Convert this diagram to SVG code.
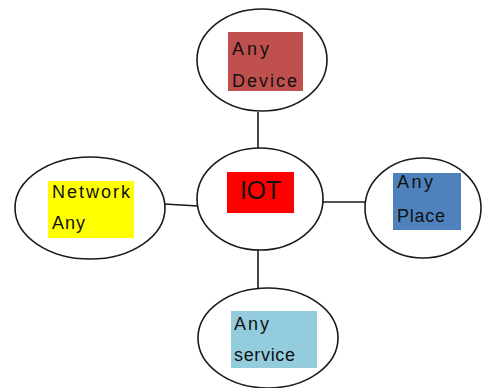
<svg xmlns="http://www.w3.org/2000/svg" width="484" height="388" viewBox="0 0 484 388">
  <style>
    .ell { fill: #ffffff; stroke: #1a1a1a; stroke-width: 1.6; }
    .conn { stroke: #1a1a1a; stroke-width: 1.6; fill: none; }
    .lbl { font-family: "Liberation Sans", Arial, sans-serif; font-size: 18px; fill: #111111; }
    .big { font-family: "Liberation Sans", Arial, sans-serif; font-size: 25px; fill: #111111; }
  </style>
  <rect width="484" height="388" fill="#ffffff"/>

  <!-- connectors between the hub and the four satellites -->
  <g id="connectors">
    <line class="conn" x1="258" y1="112" x2="258" y2="149"/>
    <line class="conn" x1="164" y1="204" x2="198" y2="206"/>
    <line class="conn" x1="321" y1="202" x2="366" y2="202"/>
    <line class="conn" x1="258" y1="250" x2="258" y2="288"/>
  </g>

  <g id="node-device">
    <ellipse class="ell" cx="262" cy="60" rx="65" ry="51"/>
    <rect x="228" y="32" width="75" height="59" fill="#c0504d"/>
    <text class="lbl" x="232" y="55" textLength="37" lengthAdjust="spacing">Any</text>
    <text class="lbl" x="232" y="87" textLength="65" lengthAdjust="spacing">Device</text>
  </g>

  <g id="node-iot">
    <ellipse class="ell" cx="260" cy="199" rx="63" ry="51"/>
    <rect x="227" y="172" width="67" height="41" fill="#ff0000"/>
    <text class="big" x="240" y="199" textLength="41" lengthAdjust="spacing">IOT</text>
  </g>

  <g id="node-network">
    <ellipse class="ell" cx="90" cy="208" rx="75" ry="51"/>
    <rect x="48" y="181" width="86" height="57" fill="#ffff00"/>
    <text class="lbl" x="52" y="198" textLength="78" lengthAdjust="spacing">Network</text>
    <text class="lbl" x="52" y="229" textLength="33" lengthAdjust="spacing">Any</text>
  </g>

  <g id="node-place">
    <ellipse class="ell" cx="423" cy="208" rx="58" ry="50"/>
    <rect x="393" y="173" width="68" height="57" fill="#4f81bd"/>
    <text class="lbl" x="397" y="188" textLength="36" lengthAdjust="spacing">Any</text>
    <text class="lbl" x="397" y="222" textLength="48" lengthAdjust="spacing">Place</text>
  </g>

  <g id="node-service">
    <ellipse class="ell" cx="268" cy="338" rx="70" ry="50"/>
    <rect x="231" y="311" width="86" height="57" fill="#93cddd"/>
    <text class="lbl" x="234" y="330" textLength="35" lengthAdjust="spacing">Any</text>
    <text class="lbl" x="234" y="361" textLength="61" lengthAdjust="spacing">service</text>
  </g>
</svg>
